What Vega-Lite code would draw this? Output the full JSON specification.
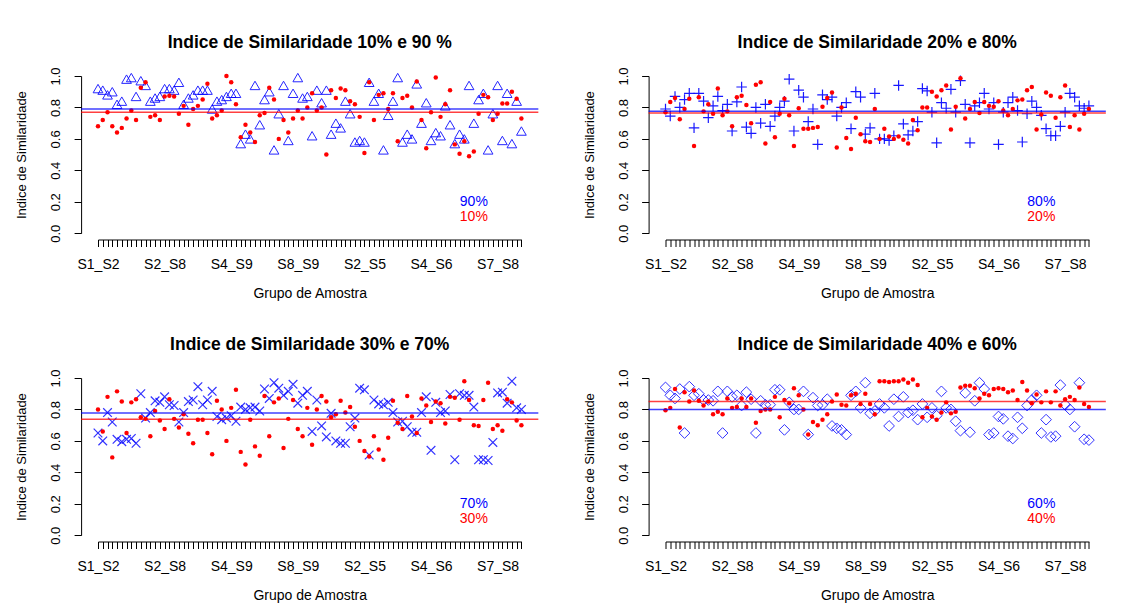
{
"$schema":"https://vega.github.io/schema/vega-lite/v6.json",
"background":"white",
"padding":{"left":15,"top":34,"right":5,"bottom":3},
"config":{
 "view":{"stroke":null},
 "font":"Liberation Sans",
 "title":{"fontSize":17.5,"fontWeight":"bold","font":"Liberation Sans","color":"#000000","anchor":"middle","frame":"group","offset":15},
 "axis":{"grid":false,"domainColor":"#000000","tickColor":"#000000","labelColor":"#000000","titleColor":"#000000","labelFontSize":13,"titleFontSize":13,"titleFontWeight":"normal","tickSize":7,"labelFont":"Liberation Sans","titleFont":"Liberation Sans"},
 "axisX":{"labelFontSize":14,"titleFontSize":14}
},
"datasets":{
"p1b":[{"i":1,"v":0.92},{"i":2,"v":0.91},{"i":3,"v":0.88},{"i":4,"v":0.90},{"i":5,"v":0.82},{"i":6,"v":0.84},{"i":7,"v":0.98},{"i":8,"v":0.99},{"i":9,"v":0.87},{"i":10,"v":0.97},{"i":11,"v":0.94},{"i":12,"v":0.84},{"i":13,"v":0.86},{"i":14,"v":0.87},{"i":15,"v":0.92},{"i":16,"v":0.92},{"i":17,"v":0.91},{"i":18,"v":0.96},{"i":19,"v":0.82},{"i":20,"v":0.86},{"i":21,"v":0.88},{"i":22,"v":0.91},{"i":23,"v":0.91},{"i":24,"v":0.91},{"i":25,"v":0.79},{"i":26,"v":0.84},{"i":27,"v":0.85},{"i":28,"v":0.87},{"i":29,"v":0.89},{"i":30,"v":0.89},{"i":31,"v":0.57},{"i":32,"v":0.63},{"i":33,"v":0.60},{"i":34,"v":0.94},{"i":35,"v":0.69},{"i":36,"v":0.85},{"i":37,"v":0.90},{"i":38,"v":0.53},{"i":39,"v":0.76},{"i":40,"v":0.94},{"i":41,"v":0.59},{"i":42,"v":0.89},{"i":43,"v":0.99},{"i":44,"v":0.86},{"i":45,"v":0.87},{"i":46,"v":0.62},{"i":47,"v":0.91},{"i":48,"v":0.83},{"i":49,"v":0.91},{"i":50,"v":0.63},{"i":51,"v":0.70},{"i":52,"v":0.67},{"i":53,"v":0.84},{"i":54,"v":0.76},{"i":55,"v":0.58},{"i":56,"v":0.59},{"i":57,"v":0.58},{"i":58,"v":0.96},{"i":59,"v":0.84},{"i":60,"v":0.89},{"i":61,"v":0.53},{"i":62,"v":0.75},{"i":63,"v":0.84},{"i":64,"v":0.99},{"i":65,"v":0.58},{"i":66,"v":0.63},{"i":67,"v":0.60},{"i":68,"v":0.95},{"i":69,"v":0.70},{"i":70,"v":0.83},{"i":71,"v":0.59},{"i":72,"v":0.64},{"i":73,"v":0.62},{"i":74,"v":0.81},{"i":75,"v":0.69},{"i":76,"v":0.57},{"i":77,"v":0.63},{"i":78,"v":0.60},{"i":79,"v":0.94},{"i":80,"v":0.70},{"i":81,"v":0.85},{"i":82,"v":0.89},{"i":83,"v":0.53},{"i":84,"v":0.76},{"i":85,"v":0.94},{"i":86,"v":0.59},{"i":87,"v":0.89},{"i":88,"v":0.57},{"i":89,"v":0.84},{"i":90,"v":0.65}],
"p1r":[{"i":1,"v":0.68},{"i":2,"v":0.72},{"i":3,"v":0.77},{"i":4,"v":0.68},{"i":5,"v":0.64},{"i":6,"v":0.67},{"i":7,"v":0.73},{"i":8,"v":0.78},{"i":9,"v":0.72},{"i":10,"v":0.925},{"i":11,"v":0.96},{"i":12,"v":0.74},{"i":13,"v":0.75},{"i":14,"v":0.72},{"i":15,"v":0.87},{"i":16,"v":0.875},{"i":17,"v":0.87},{"i":18,"v":0.76},{"i":19,"v":0.81},{"i":20,"v":0.69},{"i":21,"v":0.79},{"i":22,"v":0.81},{"i":23,"v":0.85},{"i":24,"v":0.95},{"i":25,"v":0.73},{"i":26,"v":0.75},{"i":27,"v":0.78},{"i":28,"v":1.0},{"i":29,"v":0.96},{"i":30,"v":0.82},{"i":31,"v":0.61},{"i":32,"v":0.69},{"i":33,"v":0.64},{"i":34,"v":0.58},{"i":35,"v":0.75},{"i":36,"v":0.765},{"i":37,"v":0.925},{"i":38,"v":0.85},{"i":39,"v":0.60},{"i":40,"v":0.72},{"i":41,"v":0.64},{"i":42,"v":0.73},{"i":43,"v":0.78},{"i":44,"v":0.73},{"i":45,"v":0.80},{"i":46,"v":0.89},{"i":47,"v":0.78},{"i":48,"v":0.80},{"i":49,"v":0.50},{"i":50,"v":0.91},{"i":51,"v":0.86},{"i":52,"v":0.92},{"i":53,"v":0.91},{"i":54,"v":0.84},{"i":55,"v":0.82},{"i":56,"v":0.74},{"i":57,"v":0.51},{"i":58,"v":0.96},{"i":59,"v":0.72},{"i":60,"v":0.88},{"i":61,"v":0.89},{"i":62,"v":0.79},{"i":63,"v":0.89},{"i":64,"v":0.585},{"i":65,"v":0.86},{"i":66,"v":0.875},{"i":67,"v":0.80},{"i":68,"v":0.965},{"i":69,"v":0.72},{"i":70,"v":0.54},{"i":71,"v":0.77},{"i":72,"v":0.99},{"i":73,"v":0.74},{"i":74,"v":0.82},{"i":75,"v":0.91},{"i":76,"v":0.565},{"i":77,"v":0.505},{"i":78,"v":0.585},{"i":79,"v":0.49},{"i":80,"v":0.52},{"i":81,"v":0.76},{"i":82,"v":0.88},{"i":83,"v":0.865},{"i":84,"v":0.72},{"i":85,"v":0.76},{"i":86,"v":0.825},{"i":87,"v":0.825},{"i":88,"v":0.90},{"i":89,"v":0.855},{"i":90,"v":0.73}],
"p2b":[{"i":1,"v":0.79},{"i":2,"v":0.745},{"i":3,"v":0.87},{"i":4,"v":0.80},{"i":5,"v":0.85},{"i":6,"v":0.89},{"i":7,"v":0.67},{"i":8,"v":0.89},{"i":9,"v":0.84},{"i":10,"v":0.735},{"i":11,"v":0.81},{"i":12,"v":0.87},{"i":13,"v":0.78},{"i":14,"v":0.82},{"i":15,"v":0.65},{"i":16,"v":0.835},{"i":17,"v":0.93},{"i":18,"v":0.675},{"i":19,"v":0.635},{"i":20,"v":0.80},{"i":21,"v":0.70},{"i":22,"v":0.82},{"i":23,"v":0.68},{"i":24,"v":0.745},{"i":25,"v":0.80},{"i":26,"v":0.84},{"i":27,"v":0.98},{"i":28,"v":0.65},{"i":29,"v":0.91},{"i":30,"v":0.865},{"i":31,"v":0.71},{"i":32,"v":0.79},{"i":33,"v":0.565},{"i":34,"v":0.88},{"i":35,"v":0.85},{"i":36,"v":0.865},{"i":37,"v":0.745},{"i":38,"v":0.80},{"i":39,"v":0.83},{"i":40,"v":0.665},{"i":41,"v":0.90},{"i":42,"v":0.865},{"i":43,"v":0.63},{"i":44,"v":0.67},{"i":45,"v":0.89},{"i":46,"v":0.60},{"i":47,"v":0.60},{"i":48,"v":0.59},{"i":49,"v":0.62},{"i":50,"v":0.94},{"i":51,"v":0.695},{"i":52,"v":0.625},{"i":53,"v":0.65},{"i":54,"v":0.71},{"i":55,"v":0.92},{"i":56,"v":0.905},{"i":57,"v":0.77},{"i":58,"v":0.575},{"i":59,"v":0.83},{"i":60,"v":0.795},{"i":61,"v":0.915},{"i":62,"v":0.77},{"i":63,"v":0.97},{"i":64,"v":0.82},{"i":65,"v":0.575},{"i":66,"v":0.81},{"i":67,"v":0.83},{"i":68,"v":0.89},{"i":69,"v":0.79},{"i":70,"v":0.83},{"i":71,"v":0.565},{"i":72,"v":0.77},{"i":73,"v":0.83},{"i":74,"v":0.865},{"i":75,"v":0.78},{"i":76,"v":0.58},{"i":77,"v":0.76},{"i":78,"v":0.84},{"i":79,"v":0.80},{"i":80,"v":0.75},{"i":81,"v":0.665},{"i":82,"v":0.62},{"i":83,"v":0.62},{"i":84,"v":0.68},{"i":85,"v":0.77},{"i":86,"v":0.89},{"i":87,"v":0.865},{"i":88,"v":0.81},{"i":89,"v":0.795},{"i":90,"v":0.81}],
"p2r":[{"i":1,"v":0.77},{"i":2,"v":0.835},{"i":3,"v":0.86},{"i":4,"v":0.725},{"i":5,"v":0.79},{"i":6,"v":0.855},{"i":7,"v":0.555},{"i":8,"v":0.865},{"i":9,"v":0.775},{"i":10,"v":0.82},{"i":11,"v":0.76},{"i":12,"v":0.92},{"i":13,"v":0.75},{"i":14,"v":0.775},{"i":15,"v":0.68},{"i":16,"v":0.865},{"i":17,"v":0.875},{"i":18,"v":0.815},{"i":19,"v":0.70},{"i":20,"v":0.945},{"i":21,"v":0.96},{"i":22,"v":0.57},{"i":23,"v":0.835},{"i":24,"v":0.61},{"i":25,"v":0.76},{"i":26,"v":0.855},{"i":27,"v":0.75},{"i":28,"v":0.555},{"i":29,"v":0.795},{"i":30,"v":0.665},{"i":31,"v":0.665},{"i":32,"v":0.67},{"i":33,"v":0.675},{"i":34,"v":0.805},{"i":35,"v":0.86},{"i":36,"v":0.895},{"i":37,"v":0.545},{"i":38,"v":0.80},{"i":39,"v":0.605},{"i":40,"v":0.535},{"i":41,"v":0.735},{"i":42,"v":0.63},{"i":43,"v":0.585},{"i":44,"v":0.58},{"i":45,"v":0.79},{"i":46,"v":0.60},{"i":47,"v":0.665},{"i":48,"v":0.615},{"i":49,"v":0.60},{"i":50,"v":0.615},{"i":51,"v":0.595},{"i":52,"v":0.57},{"i":53,"v":0.72},{"i":54,"v":0.655},{"i":55,"v":0.80},{"i":56,"v":0.80},{"i":57,"v":0.90},{"i":58,"v":0.87},{"i":59,"v":0.91},{"i":60,"v":0.94},{"i":61,"v":0.66},{"i":62,"v":0.805},{"i":63,"v":0.985},{"i":64,"v":0.73},{"i":65,"v":0.79},{"i":66,"v":0.835},{"i":67,"v":0.765},{"i":68,"v":0.835},{"i":69,"v":0.81},{"i":70,"v":0.805},{"i":71,"v":0.84},{"i":72,"v":0.78},{"i":73,"v":0.75},{"i":74,"v":0.79},{"i":75,"v":0.845},{"i":76,"v":0.85},{"i":77,"v":0.91},{"i":78,"v":0.93},{"i":79,"v":0.66},{"i":80,"v":0.755},{"i":81,"v":0.895},{"i":82,"v":0.875},{"i":83,"v":0.735},{"i":84,"v":0.865},{"i":85,"v":0.94},{"i":86,"v":0.675},{"i":87,"v":0.75},{"i":88,"v":0.66},{"i":89,"v":0.76},{"i":90,"v":0.79}],
"p3b":[{"i":1,"v":0.65},{"i":2,"v":0.60},{"i":3,"v":0.78},{"i":4,"v":0.72},{"i":5,"v":0.61},{"i":6,"v":0.595},{"i":7,"v":0.61},{"i":8,"v":0.615},{"i":9,"v":0.585},{"i":10,"v":0.90},{"i":11,"v":0.745},{"i":12,"v":0.78},{"i":13,"v":0.855},{"i":14,"v":0.845},{"i":15,"v":0.88},{"i":16,"v":0.83},{"i":17,"v":0.825},{"i":18,"v":0.72},{"i":19,"v":0.78},{"i":20,"v":0.85},{"i":21,"v":0.86},{"i":22,"v":0.945},{"i":23,"v":0.83},{"i":24,"v":0.86},{"i":25,"v":0.915},{"i":26,"v":0.755},{"i":27,"v":0.735},{"i":28,"v":0.745},{"i":29,"v":0.76},{"i":30,"v":0.725},{"i":31,"v":0.815},{"i":32,"v":0.80},{"i":33,"v":0.81},{"i":34,"v":0.815},{"i":35,"v":0.79},{"i":36,"v":0.93},{"i":37,"v":0.87},{"i":38,"v":0.97},{"i":39,"v":0.935},{"i":40,"v":0.89},{"i":41,"v":0.915},{"i":42,"v":0.96},{"i":43,"v":0.84},{"i":44,"v":0.89},{"i":45,"v":0.915},{"i":46,"v":0.66},{"i":47,"v":0.86},{"i":48,"v":0.695},{"i":49,"v":0.625},{"i":50,"v":0.775},{"i":51,"v":0.60},{"i":52,"v":0.585},{"i":53,"v":0.585},{"i":54,"v":0.69},{"i":55,"v":0.745},{"i":56,"v":0.935},{"i":57,"v":0.925},{"i":58,"v":0.51},{"i":59,"v":0.86},{"i":60,"v":0.835},{"i":61,"v":0.83},{"i":62,"v":0.845},{"i":63,"v":0.78},{"i":64,"v":0.72},{"i":65,"v":0.725},{"i":66,"v":0.69},{"i":67,"v":0.655},{"i":68,"v":0.655},{"i":69,"v":0.78},{"i":70,"v":0.88},{"i":71,"v":0.54},{"i":72,"v":0.845},{"i":73,"v":0.78},{"i":74,"v":0.79},{"i":75,"v":0.895},{"i":76,"v":0.48},{"i":77,"v":0.90},{"i":78,"v":0.89},{"i":79,"v":0.89},{"i":80,"v":0.815},{"i":81,"v":0.48},{"i":82,"v":0.48},{"i":83,"v":0.475},{"i":84,"v":0.59},{"i":85,"v":0.905},{"i":86,"v":0.91},{"i":87,"v":0.84},{"i":88,"v":0.98},{"i":89,"v":0.81},{"i":90,"v":0.80}],
"p3r":[{"i":1,"v":0.80},{"i":2,"v":0.66},{"i":3,"v":0.88},{"i":4,"v":0.495},{"i":5,"v":0.915},{"i":6,"v":0.85},{"i":7,"v":0.65},{"i":8,"v":0.845},{"i":9,"v":0.865},{"i":10,"v":0.75},{"i":11,"v":0.74},{"i":12,"v":0.63},{"i":13,"v":0.79},{"i":14,"v":0.73},{"i":15,"v":0.675},{"i":16,"v":0.865},{"i":17,"v":0.74},{"i":18,"v":0.685},{"i":19,"v":0.77},{"i":20,"v":0.645},{"i":21,"v":0.585},{"i":22,"v":0.735},{"i":23,"v":0.735},{"i":24,"v":0.65},{"i":25,"v":0.515},{"i":26,"v":0.855},{"i":27,"v":0.80},{"i":28,"v":0.60},{"i":29,"v":0.81},{"i":30,"v":0.925},{"i":31,"v":0.53},{"i":32,"v":0.45},{"i":33,"v":0.735},{"i":34,"v":0.565},{"i":35,"v":0.505},{"i":36,"v":0.885},{"i":37,"v":0.63},{"i":38,"v":0.845},{"i":39,"v":0.87},{"i":40,"v":0.555},{"i":41,"v":0.74},{"i":42,"v":0.86},{"i":43,"v":0.675},{"i":44,"v":0.63},{"i":45,"v":0.81},{"i":46,"v":0.575},{"i":47,"v":0.80},{"i":48,"v":0.885},{"i":49,"v":0.85},{"i":50,"v":0.75},{"i":51,"v":0.77},{"i":52,"v":0.855},{"i":53,"v":0.78},{"i":54,"v":0.815},{"i":55,"v":0.69},{"i":56,"v":0.60},{"i":57,"v":0.535},{"i":58,"v":0.50},{"i":59,"v":0.63},{"i":60,"v":0.545},{"i":61,"v":0.48},{"i":62,"v":0.62},{"i":63,"v":0.855},{"i":64,"v":0.715},{"i":65,"v":0.675},{"i":66,"v":0.885},{"i":67,"v":0.755},{"i":68,"v":0.65},{"i":69,"v":0.87},{"i":70,"v":0.825},{"i":71,"v":0.72},{"i":72,"v":0.85},{"i":73,"v":0.84},{"i":74,"v":0.71},{"i":75,"v":0.88},{"i":76,"v":0.875},{"i":77,"v":0.735},{"i":78,"v":0.98},{"i":79,"v":0.86},{"i":80,"v":0.70},{"i":81,"v":0.695},{"i":82,"v":0.86},{"i":83,"v":0.97},{"i":84,"v":0.675},{"i":85,"v":0.70},{"i":86,"v":0.665},{"i":87,"v":0.865},{"i":88,"v":0.845},{"i":89,"v":0.73},{"i":90,"v":0.70}],
"p4b":[{"i":1,"v":0.94},{"i":2,"v":0.89},{"i":3,"v":0.87},{"i":4,"v":0.93},{"i":5,"v":0.65},{"i":6,"v":0.945},{"i":7,"v":0.89},{"i":8,"v":0.90},{"i":9,"v":0.86},{"i":10,"v":0.86},{"i":11,"v":0.855},{"i":12,"v":0.915},{"i":13,"v":0.65},{"i":14,"v":0.915},{"i":15,"v":0.88},{"i":16,"v":0.89},{"i":17,"v":0.825},{"i":18,"v":0.91},{"i":19,"v":0.865},{"i":20,"v":0.65},{"i":21,"v":0.855},{"i":22,"v":0.83},{"i":23,"v":0.83},{"i":24,"v":0.925},{"i":25,"v":0.925},{"i":26,"v":0.67},{"i":27,"v":0.845},{"i":28,"v":0.80},{"i":29,"v":0.80},{"i":30,"v":0.915},{"i":31,"v":0.64},{"i":32,"v":0.875},{"i":33,"v":0.825},{"i":34,"v":0.83},{"i":35,"v":0.865},{"i":36,"v":0.695},{"i":37,"v":0.68},{"i":38,"v":0.67},{"i":39,"v":0.64},{"i":40,"v":0.89},{"i":41,"v":0.915},{"i":42,"v":0.81},{"i":43,"v":0.97},{"i":44,"v":0.775},{"i":45,"v":0.79},{"i":46,"v":0.835},{"i":47,"v":0.81},{"i":48,"v":0.695},{"i":49,"v":0.865},{"i":50,"v":0.755},{"i":51,"v":0.88},{"i":52,"v":0.78},{"i":53,"v":0.795},{"i":54,"v":0.735},{"i":55,"v":0.835},{"i":56,"v":0.75},{"i":57,"v":0.81},{"i":58,"v":0.76},{"i":59,"v":0.915},{"i":60,"v":0.81},{"i":61,"v":0.80},{"i":62,"v":0.725},{"i":63,"v":0.665},{"i":64,"v":0.905},{"i":65,"v":0.655},{"i":66,"v":0.855},{"i":67,"v":0.97},{"i":68,"v":0.93},{"i":69,"v":0.64},{"i":70,"v":0.65},{"i":71,"v":0.755},{"i":72,"v":0.74},{"i":73,"v":0.63},{"i":74,"v":0.615},{"i":75,"v":0.75},{"i":76,"v":0.68},{"i":77,"v":0.825},{"i":78,"v":0.86},{"i":79,"v":0.89},{"i":80,"v":0.65},{"i":81,"v":0.735},{"i":82,"v":0.625},{"i":83,"v":0.63},{"i":84,"v":0.955},{"i":85,"v":0.83},{"i":86,"v":0.80},{"i":87,"v":0.69},{"i":88,"v":0.97},{"i":89,"v":0.61},{"i":90,"v":0.605}],
"p4r":[{"i":1,"v":0.795},{"i":2,"v":0.81},{"i":3,"v":0.93},{"i":4,"v":0.685},{"i":5,"v":0.91},{"i":6,"v":0.85},{"i":7,"v":0.92},{"i":8,"v":0.855},{"i":9,"v":0.825},{"i":10,"v":0.85},{"i":11,"v":0.77},{"i":12,"v":0.785},{"i":13,"v":0.77},{"i":14,"v":0.87},{"i":15,"v":0.81},{"i":16,"v":0.815},{"i":17,"v":0.87},{"i":18,"v":0.815},{"i":19,"v":0.87},{"i":20,"v":0.715},{"i":21,"v":0.79},{"i":22,"v":0.80},{"i":23,"v":0.80},{"i":24,"v":0.88},{"i":25,"v":0.75},{"i":26,"v":0.86},{"i":27,"v":0.84},{"i":28,"v":0.935},{"i":29,"v":0.89},{"i":30,"v":0.80},{"i":31,"v":0.64},{"i":32,"v":0.72},{"i":33,"v":0.70},{"i":34,"v":0.735},{"i":35,"v":0.77},{"i":36,"v":0.85},{"i":37,"v":0.895},{"i":38,"v":0.83},{"i":39,"v":0.825},{"i":40,"v":0.89},{"i":41,"v":0.90},{"i":42,"v":0.835},{"i":43,"v":0.90},{"i":44,"v":0.835},{"i":45,"v":0.77},{"i":46,"v":0.98},{"i":47,"v":0.98},{"i":48,"v":0.975},{"i":49,"v":0.98},{"i":50,"v":0.98},{"i":51,"v":0.99},{"i":52,"v":0.97},{"i":53,"v":0.99},{"i":54,"v":0.955},{"i":55,"v":0.75},{"i":56,"v":0.81},{"i":57,"v":0.755},{"i":58,"v":0.735},{"i":59,"v":0.78},{"i":60,"v":0.845},{"i":61,"v":0.775},{"i":62,"v":0.785},{"i":63,"v":0.94},{"i":64,"v":0.95},{"i":65,"v":0.95},{"i":66,"v":0.935},{"i":67,"v":0.87},{"i":68,"v":0.90},{"i":69,"v":0.89},{"i":70,"v":0.93},{"i":71,"v":0.935},{"i":72,"v":0.93},{"i":73,"v":0.91},{"i":74,"v":0.92},{"i":75,"v":0.86},{"i":76,"v":0.975},{"i":77,"v":0.92},{"i":78,"v":0.84},{"i":79,"v":0.895},{"i":80,"v":0.845},{"i":81,"v":0.915},{"i":82,"v":0.845},{"i":83,"v":0.915},{"i":84,"v":0.825},{"i":85,"v":0.865},{"i":86,"v":0.88},{"i":87,"v":0.86},{"i":88,"v":0.94},{"i":89,"v":0.835},{"i":90,"v":0.815}],
"means":[{"p":1,"s":"b","v":0.79},{"p":1,"s":"r","v":0.77},{"p":2,"s":"b","v":0.775},{"p":2,"s":"r","v":0.765},{"p":3,"s":"b","v":0.777},{"p":3,"s":"r","v":0.738},{"p":4,"s":"b","v":0.80},{"p":4,"s":"r","v":0.85}],
"notes":[{"p":1,"s":"b","t":"90%","i":80,"v":0.2},{"p":1,"s":"r","t":"10%","i":80,"v":0.1},{"p":2,"s":"b","t":"80%","i":80,"v":0.2},{"p":2,"s":"r","t":"20%","i":80,"v":0.1},{"p":3,"s":"b","t":"70%","i":80,"v":0.2},{"p":3,"s":"r","t":"30%","i":80,"v":0.1},{"p":4,"s":"b","t":"60%","i":80,"v":0.2},{"p":4,"s":"r","t":"40%","i":80,"v":0.1}]
},
"columns":2,
"spacing":{"row":35,"column":42.5},
"concat":[
{"width":423.4,"height":157.2,"title":{"text":"Indice de Similaridade 10% e 90 %"},
 "encoding":{"y":{"field":"v","type":"quantitative","title":"Indice de Similaridade","scale":{"domain":[0,1],"nice":false,"zero":false},"axis":{"values":[0,0.2,0.4,0.6,0.8,1],"format":".1f","labelAngle":-90,"labelAlign":"center","labelBaseline":"bottom","offset":16.9,"labelPadding":11.5,"titlePadding":21}}},
 "layer":[
  {"data":{"name":"p1b"},"mark":{"type":"point","shape":"triangle-up","filled":false,"size":95,"strokeWidth":1,"color":"#0000ff","opacity":0.85},
   "encoding":{"x":{"field":"i","type":"quantitative","title":"Grupo de Amostra","scale":{"domain":[1,90],"nice":false,"zero":false},"axis":{"values":[1,2,3,4,5,6,7,8,9,10,11,12,13,14,15,16,17,18,19,20,21,22,23,24,25,26,27,28,29,30,31,32,33,34,35,36,37,38,39,40,41,42,43,44,45,46,47,48,49,50,51,52,53,54,55,56,57,58,59,60,61,62,63,64,65,66,67,68,69,70,71,72,73,74,75,76,77,78,79,80,81,82,83,84,85,86,87,88,89,90],"labelExpr":"(datum.value - 1) % 14 == 0 ? ['S1_S2','S2_S8','S4_S9','S8_S9','S2_S5','S4_S6','S7_S8'][(datum.value - 1) / 14] : ''","labelOverlap":false,"labelFlush":false,"labelAngle":0,"offset":6.3,"labelPadding":11,"titlePadding":15}}}},
  {"data":{"name":"p1r"},"mark":{"type":"circle","size":20,"color":"#ff0000","opacity":1},
   "encoding":{"x":{"field":"i","type":"quantitative","title":"Grupo de Amostra","scale":{"domain":[1,90],"nice":false,"zero":false},"axis":{"values":[1,2,3,4,5,6,7,8,9,10,11,12,13,14,15,16,17,18,19,20,21,22,23,24,25,26,27,28,29,30,31,32,33,34,35,36,37,38,39,40,41,42,43,44,45,46,47,48,49,50,51,52,53,54,55,56,57,58,59,60,61,62,63,64,65,66,67,68,69,70,71,72,73,74,75,76,77,78,79,80,81,82,83,84,85,86,87,88,89,90],"labelExpr":"(datum.value - 1) % 14 == 0 ? ['S1_S2','S2_S8','S4_S9','S8_S9','S2_S5','S4_S6','S7_S8'][(datum.value - 1) / 14] : ''","labelOverlap":false,"labelFlush":false,"labelAngle":0,"offset":6.3,"labelPadding":11,"titlePadding":15}}}},
  {"data":{"name":"means"},"transform":[{"filter":"datum.p==1"}],"mark":{"type":"rule","strokeWidth":1.5,"opacity":0.75},
   "encoding":{"x":{"datum":-2.56,"type":"quantitative","title":"Grupo de Amostra","scale":{"domain":[1,90],"nice":false,"zero":false},"axis":{"values":[1,2,3,4,5,6,7,8,9,10,11,12,13,14,15,16,17,18,19,20,21,22,23,24,25,26,27,28,29,30,31,32,33,34,35,36,37,38,39,40,41,42,43,44,45,46,47,48,49,50,51,52,53,54,55,56,57,58,59,60,61,62,63,64,65,66,67,68,69,70,71,72,73,74,75,76,77,78,79,80,81,82,83,84,85,86,87,88,89,90],"labelExpr":"(datum.value - 1) % 14 == 0 ? ['S1_S2','S2_S8','S4_S9','S8_S9','S2_S5','S4_S6','S7_S8'][(datum.value - 1) / 14] : ''","labelOverlap":false,"labelFlush":false,"labelAngle":0,"offset":6.3,"labelPadding":11,"titlePadding":15}},"x2":{"datum":93.56},"color":{"field":"s","type":"nominal","scale":{"domain":["b","r"],"range":["#0000ff","#ff0000"]},"legend":null}}},
  {"data":{"name":"notes"},"transform":[{"filter":"datum.p==1"}],"mark":{"type":"text","fontSize":14,"font":"Liberation Sans"},
   "encoding":{"x":{"field":"i","type":"quantitative","title":"Grupo de Amostra","scale":{"domain":[1,90],"nice":false,"zero":false},"axis":{"values":[1,2,3,4,5,6,7,8,9,10,11,12,13,14,15,16,17,18,19,20,21,22,23,24,25,26,27,28,29,30,31,32,33,34,35,36,37,38,39,40,41,42,43,44,45,46,47,48,49,50,51,52,53,54,55,56,57,58,59,60,61,62,63,64,65,66,67,68,69,70,71,72,73,74,75,76,77,78,79,80,81,82,83,84,85,86,87,88,89,90],"labelExpr":"(datum.value - 1) % 14 == 0 ? ['S1_S2','S2_S8','S4_S9','S8_S9','S2_S5','S4_S6','S7_S8'][(datum.value - 1) / 14] : ''","labelOverlap":false,"labelFlush":false,"labelAngle":0,"offset":6.3,"labelPadding":11,"titlePadding":15}},"text":{"field":"t"},"color":{"field":"s","type":"nominal","scale":{"domain":["b","r"],"range":["#0000ff","#ff0000"]},"legend":null}}}
 ]},
{"width":423.4,"height":157.2,"title":{"text":"Indice de Similaridade 20% e 80%"},
 "encoding":{"y":{"field":"v","type":"quantitative","title":"Indice de Similaridade","scale":{"domain":[0,1],"nice":false,"zero":false},"axis":{"values":[0,0.2,0.4,0.6,0.8,1],"format":".1f","labelAngle":-90,"labelAlign":"center","labelBaseline":"bottom","offset":16.9,"labelPadding":11.5,"titlePadding":21}}},
 "layer":[
  {"data":{"name":"p2b"},"mark":{"type":"point","shape":"M-1,0L1,0M0,-1L0,1","filled":false,"size":110,"strokeWidth":1.2,"color":"#0000ff","opacity":0.9},
   "encoding":{"x":{"field":"i","type":"quantitative","title":"Grupo de Amostra","scale":{"domain":[1,90],"nice":false,"zero":false},"axis":{"values":[1,2,3,4,5,6,7,8,9,10,11,12,13,14,15,16,17,18,19,20,21,22,23,24,25,26,27,28,29,30,31,32,33,34,35,36,37,38,39,40,41,42,43,44,45,46,47,48,49,50,51,52,53,54,55,56,57,58,59,60,61,62,63,64,65,66,67,68,69,70,71,72,73,74,75,76,77,78,79,80,81,82,83,84,85,86,87,88,89,90],"labelExpr":"(datum.value - 1) % 14 == 0 ? ['S1_S2','S2_S8','S4_S9','S8_S9','S2_S5','S4_S6','S7_S8'][(datum.value - 1) / 14] : ''","labelOverlap":false,"labelFlush":false,"labelAngle":0,"offset":6.3,"labelPadding":11,"titlePadding":15}}}},
  {"data":{"name":"p2r"},"mark":{"type":"circle","size":20,"color":"#ff0000","opacity":1},
   "encoding":{"x":{"field":"i","type":"quantitative","title":"Grupo de Amostra","scale":{"domain":[1,90],"nice":false,"zero":false},"axis":{"values":[1,2,3,4,5,6,7,8,9,10,11,12,13,14,15,16,17,18,19,20,21,22,23,24,25,26,27,28,29,30,31,32,33,34,35,36,37,38,39,40,41,42,43,44,45,46,47,48,49,50,51,52,53,54,55,56,57,58,59,60,61,62,63,64,65,66,67,68,69,70,71,72,73,74,75,76,77,78,79,80,81,82,83,84,85,86,87,88,89,90],"labelExpr":"(datum.value - 1) % 14 == 0 ? ['S1_S2','S2_S8','S4_S9','S8_S9','S2_S5','S4_S6','S7_S8'][(datum.value - 1) / 14] : ''","labelOverlap":false,"labelFlush":false,"labelAngle":0,"offset":6.3,"labelPadding":11,"titlePadding":15}}}},
  {"data":{"name":"means"},"transform":[{"filter":"datum.p==2"}],"mark":{"type":"rule","strokeWidth":1.5,"opacity":0.75},
   "encoding":{"x":{"datum":-2.56,"type":"quantitative","title":"Grupo de Amostra","scale":{"domain":[1,90],"nice":false,"zero":false},"axis":{"values":[1,2,3,4,5,6,7,8,9,10,11,12,13,14,15,16,17,18,19,20,21,22,23,24,25,26,27,28,29,30,31,32,33,34,35,36,37,38,39,40,41,42,43,44,45,46,47,48,49,50,51,52,53,54,55,56,57,58,59,60,61,62,63,64,65,66,67,68,69,70,71,72,73,74,75,76,77,78,79,80,81,82,83,84,85,86,87,88,89,90],"labelExpr":"(datum.value - 1) % 14 == 0 ? ['S1_S2','S2_S8','S4_S9','S8_S9','S2_S5','S4_S6','S7_S8'][(datum.value - 1) / 14] : ''","labelOverlap":false,"labelFlush":false,"labelAngle":0,"offset":6.3,"labelPadding":11,"titlePadding":15}},"x2":{"datum":93.56},"color":{"field":"s","type":"nominal","scale":{"domain":["b","r"],"range":["#0000ff","#ff0000"]},"legend":null}}},
  {"data":{"name":"notes"},"transform":[{"filter":"datum.p==2"}],"mark":{"type":"text","fontSize":14,"font":"Liberation Sans"},
   "encoding":{"x":{"field":"i","type":"quantitative","title":"Grupo de Amostra","scale":{"domain":[1,90],"nice":false,"zero":false},"axis":{"values":[1,2,3,4,5,6,7,8,9,10,11,12,13,14,15,16,17,18,19,20,21,22,23,24,25,26,27,28,29,30,31,32,33,34,35,36,37,38,39,40,41,42,43,44,45,46,47,48,49,50,51,52,53,54,55,56,57,58,59,60,61,62,63,64,65,66,67,68,69,70,71,72,73,74,75,76,77,78,79,80,81,82,83,84,85,86,87,88,89,90],"labelExpr":"(datum.value - 1) % 14 == 0 ? ['S1_S2','S2_S8','S4_S9','S8_S9','S2_S5','S4_S6','S7_S8'][(datum.value - 1) / 14] : ''","labelOverlap":false,"labelFlush":false,"labelAngle":0,"offset":6.3,"labelPadding":11,"titlePadding":15}},"text":{"field":"t"},"color":{"field":"s","type":"nominal","scale":{"domain":["b","r"],"range":["#0000ff","#ff0000"]},"legend":null}}}
 ]},
{"width":423.4,"height":157.2,"title":{"text":"Indice de Similaridade 30% e 70%"},
 "encoding":{"y":{"field":"v","type":"quantitative","title":"Indice de Similaridade","scale":{"domain":[0,1],"nice":false,"zero":false},"axis":{"values":[0,0.2,0.4,0.6,0.8,1],"format":".1f","labelAngle":-90,"labelAlign":"center","labelBaseline":"bottom","offset":16.9,"labelPadding":11.5,"titlePadding":21}}},
 "layer":[
  {"data":{"name":"p3b"},"mark":{"type":"point","shape":"M-1,-1L1,1M1,-1L-1,1","filled":false,"size":75,"strokeWidth":1.2,"color":"#0000ff","opacity":0.8},
   "encoding":{"x":{"field":"i","type":"quantitative","title":"Grupo de Amostra","scale":{"domain":[1,90],"nice":false,"zero":false},"axis":{"values":[1,2,3,4,5,6,7,8,9,10,11,12,13,14,15,16,17,18,19,20,21,22,23,24,25,26,27,28,29,30,31,32,33,34,35,36,37,38,39,40,41,42,43,44,45,46,47,48,49,50,51,52,53,54,55,56,57,58,59,60,61,62,63,64,65,66,67,68,69,70,71,72,73,74,75,76,77,78,79,80,81,82,83,84,85,86,87,88,89,90],"labelExpr":"(datum.value - 1) % 14 == 0 ? ['S1_S2','S2_S8','S4_S9','S8_S9','S2_S5','S4_S6','S7_S8'][(datum.value - 1) / 14] : ''","labelOverlap":false,"labelFlush":false,"labelAngle":0,"offset":6.3,"labelPadding":11,"titlePadding":15}}}},
  {"data":{"name":"p3r"},"mark":{"type":"circle","size":20,"color":"#ff0000","opacity":1},
   "encoding":{"x":{"field":"i","type":"quantitative","title":"Grupo de Amostra","scale":{"domain":[1,90],"nice":false,"zero":false},"axis":{"values":[1,2,3,4,5,6,7,8,9,10,11,12,13,14,15,16,17,18,19,20,21,22,23,24,25,26,27,28,29,30,31,32,33,34,35,36,37,38,39,40,41,42,43,44,45,46,47,48,49,50,51,52,53,54,55,56,57,58,59,60,61,62,63,64,65,66,67,68,69,70,71,72,73,74,75,76,77,78,79,80,81,82,83,84,85,86,87,88,89,90],"labelExpr":"(datum.value - 1) % 14 == 0 ? ['S1_S2','S2_S8','S4_S9','S8_S9','S2_S5','S4_S6','S7_S8'][(datum.value - 1) / 14] : ''","labelOverlap":false,"labelFlush":false,"labelAngle":0,"offset":6.3,"labelPadding":11,"titlePadding":15}}}},
  {"data":{"name":"means"},"transform":[{"filter":"datum.p==3"}],"mark":{"type":"rule","strokeWidth":1.5,"opacity":0.75},
   "encoding":{"x":{"datum":-2.56,"type":"quantitative","title":"Grupo de Amostra","scale":{"domain":[1,90],"nice":false,"zero":false},"axis":{"values":[1,2,3,4,5,6,7,8,9,10,11,12,13,14,15,16,17,18,19,20,21,22,23,24,25,26,27,28,29,30,31,32,33,34,35,36,37,38,39,40,41,42,43,44,45,46,47,48,49,50,51,52,53,54,55,56,57,58,59,60,61,62,63,64,65,66,67,68,69,70,71,72,73,74,75,76,77,78,79,80,81,82,83,84,85,86,87,88,89,90],"labelExpr":"(datum.value - 1) % 14 == 0 ? ['S1_S2','S2_S8','S4_S9','S8_S9','S2_S5','S4_S6','S7_S8'][(datum.value - 1) / 14] : ''","labelOverlap":false,"labelFlush":false,"labelAngle":0,"offset":6.3,"labelPadding":11,"titlePadding":15}},"x2":{"datum":93.56},"color":{"field":"s","type":"nominal","scale":{"domain":["b","r"],"range":["#0000ff","#ff0000"]},"legend":null}}},
  {"data":{"name":"notes"},"transform":[{"filter":"datum.p==3"}],"mark":{"type":"text","fontSize":14,"font":"Liberation Sans"},
   "encoding":{"x":{"field":"i","type":"quantitative","title":"Grupo de Amostra","scale":{"domain":[1,90],"nice":false,"zero":false},"axis":{"values":[1,2,3,4,5,6,7,8,9,10,11,12,13,14,15,16,17,18,19,20,21,22,23,24,25,26,27,28,29,30,31,32,33,34,35,36,37,38,39,40,41,42,43,44,45,46,47,48,49,50,51,52,53,54,55,56,57,58,59,60,61,62,63,64,65,66,67,68,69,70,71,72,73,74,75,76,77,78,79,80,81,82,83,84,85,86,87,88,89,90],"labelExpr":"(datum.value - 1) % 14 == 0 ? ['S1_S2','S2_S8','S4_S9','S8_S9','S2_S5','S4_S6','S7_S8'][(datum.value - 1) / 14] : ''","labelOverlap":false,"labelFlush":false,"labelAngle":0,"offset":6.3,"labelPadding":11,"titlePadding":15}},"text":{"field":"t"},"color":{"field":"s","type":"nominal","scale":{"domain":["b","r"],"range":["#0000ff","#ff0000"]},"legend":null}}}
 ]},
{"width":423.4,"height":157.2,"title":{"text":"Indice de Similaridade 40% e 60%"},
 "encoding":{"y":{"field":"v","type":"quantitative","title":"Indice de Similaridade","scale":{"domain":[0,1],"nice":false,"zero":false},"axis":{"values":[0,0.2,0.4,0.6,0.8,1],"format":".1f","labelAngle":-90,"labelAlign":"center","labelBaseline":"bottom","offset":16.9,"labelPadding":11.5,"titlePadding":21}}},
 "layer":[
  {"data":{"name":"p4b"},"mark":{"type":"point","shape":"diamond","filled":false,"size":115,"strokeWidth":1,"color":"#0000ff","opacity":0.8},
   "encoding":{"x":{"field":"i","type":"quantitative","title":"Grupo de Amostra","scale":{"domain":[1,90],"nice":false,"zero":false},"axis":{"values":[1,2,3,4,5,6,7,8,9,10,11,12,13,14,15,16,17,18,19,20,21,22,23,24,25,26,27,28,29,30,31,32,33,34,35,36,37,38,39,40,41,42,43,44,45,46,47,48,49,50,51,52,53,54,55,56,57,58,59,60,61,62,63,64,65,66,67,68,69,70,71,72,73,74,75,76,77,78,79,80,81,82,83,84,85,86,87,88,89,90],"labelExpr":"(datum.value - 1) % 14 == 0 ? ['S1_S2','S2_S8','S4_S9','S8_S9','S2_S5','S4_S6','S7_S8'][(datum.value - 1) / 14] : ''","labelOverlap":false,"labelFlush":false,"labelAngle":0,"offset":6.3,"labelPadding":11,"titlePadding":15}}}},
  {"data":{"name":"p4r"},"mark":{"type":"circle","size":20,"color":"#ff0000","opacity":1},
   "encoding":{"x":{"field":"i","type":"quantitative","title":"Grupo de Amostra","scale":{"domain":[1,90],"nice":false,"zero":false},"axis":{"values":[1,2,3,4,5,6,7,8,9,10,11,12,13,14,15,16,17,18,19,20,21,22,23,24,25,26,27,28,29,30,31,32,33,34,35,36,37,38,39,40,41,42,43,44,45,46,47,48,49,50,51,52,53,54,55,56,57,58,59,60,61,62,63,64,65,66,67,68,69,70,71,72,73,74,75,76,77,78,79,80,81,82,83,84,85,86,87,88,89,90],"labelExpr":"(datum.value - 1) % 14 == 0 ? ['S1_S2','S2_S8','S4_S9','S8_S9','S2_S5','S4_S6','S7_S8'][(datum.value - 1) / 14] : ''","labelOverlap":false,"labelFlush":false,"labelAngle":0,"offset":6.3,"labelPadding":11,"titlePadding":15}}}},
  {"data":{"name":"means"},"transform":[{"filter":"datum.p==4"}],"mark":{"type":"rule","strokeWidth":1.5,"opacity":0.75},
   "encoding":{"x":{"datum":-2.56,"type":"quantitative","title":"Grupo de Amostra","scale":{"domain":[1,90],"nice":false,"zero":false},"axis":{"values":[1,2,3,4,5,6,7,8,9,10,11,12,13,14,15,16,17,18,19,20,21,22,23,24,25,26,27,28,29,30,31,32,33,34,35,36,37,38,39,40,41,42,43,44,45,46,47,48,49,50,51,52,53,54,55,56,57,58,59,60,61,62,63,64,65,66,67,68,69,70,71,72,73,74,75,76,77,78,79,80,81,82,83,84,85,86,87,88,89,90],"labelExpr":"(datum.value - 1) % 14 == 0 ? ['S1_S2','S2_S8','S4_S9','S8_S9','S2_S5','S4_S6','S7_S8'][(datum.value - 1) / 14] : ''","labelOverlap":false,"labelFlush":false,"labelAngle":0,"offset":6.3,"labelPadding":11,"titlePadding":15}},"x2":{"datum":93.56},"color":{"field":"s","type":"nominal","scale":{"domain":["b","r"],"range":["#0000ff","#ff0000"]},"legend":null}}},
  {"data":{"name":"notes"},"transform":[{"filter":"datum.p==4"}],"mark":{"type":"text","fontSize":14,"font":"Liberation Sans"},
   "encoding":{"x":{"field":"i","type":"quantitative","title":"Grupo de Amostra","scale":{"domain":[1,90],"nice":false,"zero":false},"axis":{"values":[1,2,3,4,5,6,7,8,9,10,11,12,13,14,15,16,17,18,19,20,21,22,23,24,25,26,27,28,29,30,31,32,33,34,35,36,37,38,39,40,41,42,43,44,45,46,47,48,49,50,51,52,53,54,55,56,57,58,59,60,61,62,63,64,65,66,67,68,69,70,71,72,73,74,75,76,77,78,79,80,81,82,83,84,85,86,87,88,89,90],"labelExpr":"(datum.value - 1) % 14 == 0 ? ['S1_S2','S2_S8','S4_S9','S8_S9','S2_S5','S4_S6','S7_S8'][(datum.value - 1) / 14] : ''","labelOverlap":false,"labelFlush":false,"labelAngle":0,"offset":6.3,"labelPadding":11,"titlePadding":15}},"text":{"field":"t"},"color":{"field":"s","type":"nominal","scale":{"domain":["b","r"],"range":["#0000ff","#ff0000"]},"legend":null}}}
 ]}
]
}
